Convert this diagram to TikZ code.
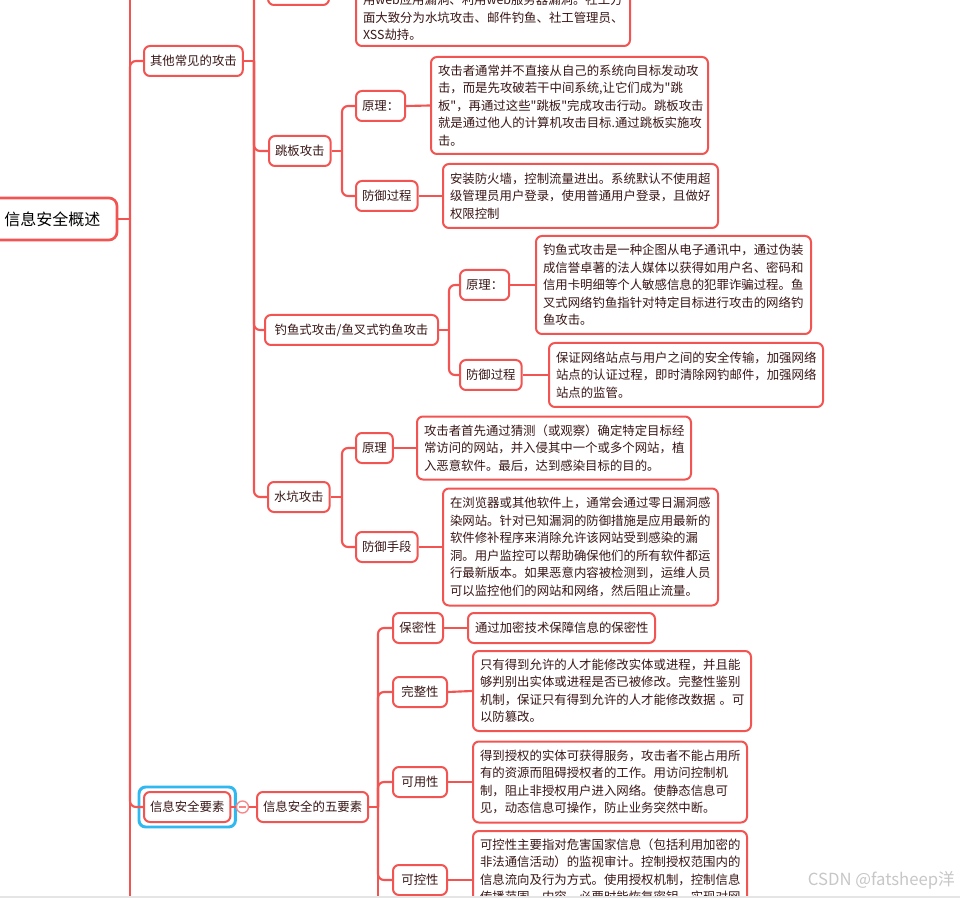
\documentclass[tikz,border=0pt]{standalone}
\usepackage{fontspec}
\newfontfamily\cjk{Noto Sans CJK SC}
\usetikzlibrary{calc}
\definecolor{mred}{RGB}{242,84,82}
\definecolor{txt}{RGB}{58,22,22}
\definecolor{hblue}{RGB}{48,184,240}
\tikzset{
  box/.style={draw=mred, line width=1.5pt, rounded corners=4.5pt, fill=white, text=txt,
    font=\cjk\fontsize{9.3pt}{13.1pt}\selectfont},
  lbl/.style={box, inner xsep=4.5pt, inner ysep=0pt, minimum height=22.5pt, anchor=west},
  tbox/.style n args={2}{box, inner xsep=5.25pt, inner ysep=2pt, align=left, anchor=west,
    text width=#1, minimum height=#2},
  conn/.style={draw=mred, line width=1.6pt, rounded corners=4.5pt},
}
\begin{document}
\begin{tikzpicture}[x=0.75pt,y=-0.75pt]
\useasboundingbox (0,0) rectangle (960,898);
\clip (0,0) rectangle (960,898);
\fill[white] (0,0) rectangle (960,898);

% ---------- nodes ----------
\node[box, line width=2pt, rounded corners=6pt, text=black, font=\cjk\fontsize{12pt}{14pt}\selectfont,
  minimum width=96.75pt, minimum height=31.5pt] (R) at (52.5,219) {信息安全概述};

\node[lbl] (A) at (143,61) {其他常见的攻击};
\node[lbl] (B) at (143,807) {信息安全要素};

% level 2 under A
\node[box, minimum width=45.75pt, minimum height=22.5pt, inner sep=0pt] (T) at (298.5,-10) {};
\node[lbl] (JB) at (268,151) {跳板攻击};
\node[lbl, minimum width=129.75pt] (DY) at (264,330) {钓鱼式攻击/鱼叉式钓鱼攻击};
\node[lbl] (SK) at (267,497) {水坑攻击};

% top cut text box
\node[box, inner xsep=5.25pt, inner ysep=4pt, align=left, anchor=south west, text width=195pt]
  (TT) at (355,47) {用web应用漏洞、利用web服务器漏洞。社工方\\面大致分为水坑攻击、邮件钓鱼、社工管理员、\\XSS劫持。};

% 跳板攻击
\node[lbl] (JBa) at (355,106) {原理：};
\node[lbl] (JBb) at (355,196) {防御过程};
\node[tbox={197.25pt}{72.75pt}] (JBat) at (430,105.5) {攻击者通常并不直接从自己的系统向目标发动攻\\击，而是先攻破若干中间系统,让它们成为"跳\\板"，再通过这些"跳板"完成攻击行动。跳板攻击\\就是通过他人的计算机攻击目标.通过跳板实施攻\\击。};
\node[tbox={195.75pt}{48pt}] (JBbt) at (442,196) {安装防火墙，控制流量进出。系统默认不使用超\\级管理员用户登录，使用普通用户登录，且做好\\权限控制};

% 钓鱼
\node[lbl] (DYa) at (459,285) {原理：};
\node[lbl] (DYb) at (459,375) {防御过程};
\node[tbox={195.75pt}{73.5pt}] (DYat) at (535,285) {钓鱼式攻击是一种企图从电子通讯中，通过伪装\\成信誉卓著的法人媒体以获得如用户名、密码和\\信用卡明细等个人敏感信息的犯罪诈骗过程。鱼\\叉式网络钓鱼指针对特定目标进行攻击的网络钓\\鱼攻击。};
\node[tbox={195pt}{48pt}] (DYbt) at (548,375) {保证网络站点与用户之间的安全传输，加强网络\\站点的认证过程，即时清除网钓邮件，加强网络\\站点的监管。};

% 水坑
\node[lbl] (SKa) at (355,448) {原理};
\node[lbl] (SKb) at (355,547) {防御手段};
\node[tbox={195pt}{47.25pt}] (SKat) at (416,448) {攻击者首先通过猜测（或观察）确定特定目标经\\常访问的网站，并入侵其中一个或多个网站，植\\入恶意软件。最后，达到感染目标的目的。};
\node[tbox={195.75pt}{87.75pt}] (SKbt) at (442,547) {在浏览器或其他软件上，通常会通过零日漏洞感\\染网站。针对已知漏洞的防御措施是应用最新的\\软件修补程序来消除允许该网站受到感染的漏\\洞。用户监控可以帮助确保他们的所有软件都运\\行最新版本。如果恶意内容被检测到，运维人员\\可以监控他们的网站和网络，然后阻止流量。};

% 信息安全要素
\draw[hblue, line width=2.2pt, rounded corners=5pt]
  ($(B.south west)+(-4,4)$) rectangle ($(B.north east)+(4,-4)$);
\node[circle, draw=mred!70, fill=white, line width=1pt, minimum size=9pt, inner sep=0pt] (cB) at (242.5,807) {};
\node[lbl] (F) at (256,807) {信息安全的五要素};

\node[lbl, minimum width=37.5pt] (F1) at (392,628) {保密性};
\node[lbl, minimum width=40.5pt] (F2) at (392,692) {完整性};
\node[lbl, minimum width=40.5pt] (F3) at (392,782) {可用性};
\node[lbl, minimum width=40.5pt] (F4) at (392,880) {可控性};
\node[tbox={129.75pt}{22.5pt}] (F1t) at (467,628) {通过加密技术保障信息的保密性};
\node[tbox={198pt}{60pt}] (F2t) at (472,691) {只有得到允许的人才能修改实体或进程，并且能\\够判别出实体或进程是否已被修改。完整性鉴别\\机制，保证只有得到允许的人才能修改数据~。可\\以防篡改。};
\node[tbox={195pt}{60.75pt}] (F3t) at (472,782) {得到授权的实体可获得服务，攻击者不能占用所\\有的资源而阻碍授权者的工作。用访问控制机\\制，阻止非授权用户进入网络。使静态信息可\\见，动态信息可操作，防止业务突然中断。};
\node[tbox={195pt}{60pt}, anchor=north west] (F4t) at (472,830) {可控性主要指对危害国家信息（包括利用加密的\\非法通信活动）的监视审计。控制授权范围内的\\信息流向及行为方式。使用授权机制，控制信息\\传播范围、内容，必要时能恢复密钥，实现对网};

% ---------- junctions ----------
\coordinate (jR) at (130,219);
\coordinate (trTop) at (130,-40);
\coordinate (trBot) at (130,940);
\coordinate (jA) at (254,61);
\coordinate (jJB) at (342,151);
\coordinate (jDY) at (449,330);
\coordinate (jSK) at (342,497);
\coordinate (jF) at (378,807);
\coordinate (fBot) at (378,940);

% ---------- connectors ----------
\draw[conn] (R.east) -- (jR);
\draw[conn] (jR) -- (trTop);
\draw[conn] (jR) -- (trBot);
\draw[conn] (jR) |- (A.west);
\draw[conn] (jR) |- (B.west);

\draw[conn] (A.east) -- (jA);
\draw[conn] (jA) |- (T.west);
\draw[conn] (jA) |- (JB.west);
\draw[conn] (jA) |- (DY.west);
\draw[conn] (jA) |- (SK.west);
\draw[conn] (T.east) -- (T.east -| TT.west);

\draw[conn] (JB.east) -- (jJB);
\draw[conn] (jJB) |- (JBa.west);
\draw[conn] (jJB) |- (JBb.west);
\draw[conn] (JBa.east) -- (JBat.west);
\draw[conn] (JBb.east) -- (JBbt.west);

\draw[conn] (DY.east) -- (jDY);
\draw[conn] (jDY) |- (DYa.west);
\draw[conn] (jDY) |- (DYb.west);
\draw[conn] (DYa.east) -- (DYat.west);
\draw[conn] (DYb.east) -- (DYbt.west);

\draw[conn] (SK.east) -- (jSK);
\draw[conn] (jSK) |- (SKa.west);
\draw[conn] (jSK) |- (SKb.west);
\draw[conn] (SKa.east) -- (SKat.west);
\draw[conn] (SKb.east) -- (SKbt.west);

\draw[conn] (B.east) -- (cB.west);
\draw[conn] (cB.east) -- (F.west);
\draw[mred!70, line width=1pt] ($(cB.center)+(-3.5,0)$) -- ($(cB.center)+(3.5,0)$);

\draw[conn] (F.east) -- (jF);
\draw[conn] (jF) |- (F1.west);
\draw[conn] (jF) |- (F2.west);
\draw[conn] (jF) |- (F3.west);
\draw[conn] (jF) |- (F4.west);
\draw[conn] (jF) -- (fBot);
\draw[conn] (F1.east) -- (F1t.west);
\draw[conn] (F2.east) -- (F2t.west);
\draw[conn] (F3.east) -- (F3t.west);
\draw[conn] (F4.east) -- (F4t.west |- F4.east);

% bottom strip and watermark
\fill[black!10] (0,895.5) rectangle (960,898);
\node[anchor=east, text=black!22, font=\cjk\fontsize{12.5pt}{14pt}\selectfont, inner sep=0pt] (wm) at (955,880) {CSDN @fatsheep洋};
\end{tikzpicture}
\end{document}
